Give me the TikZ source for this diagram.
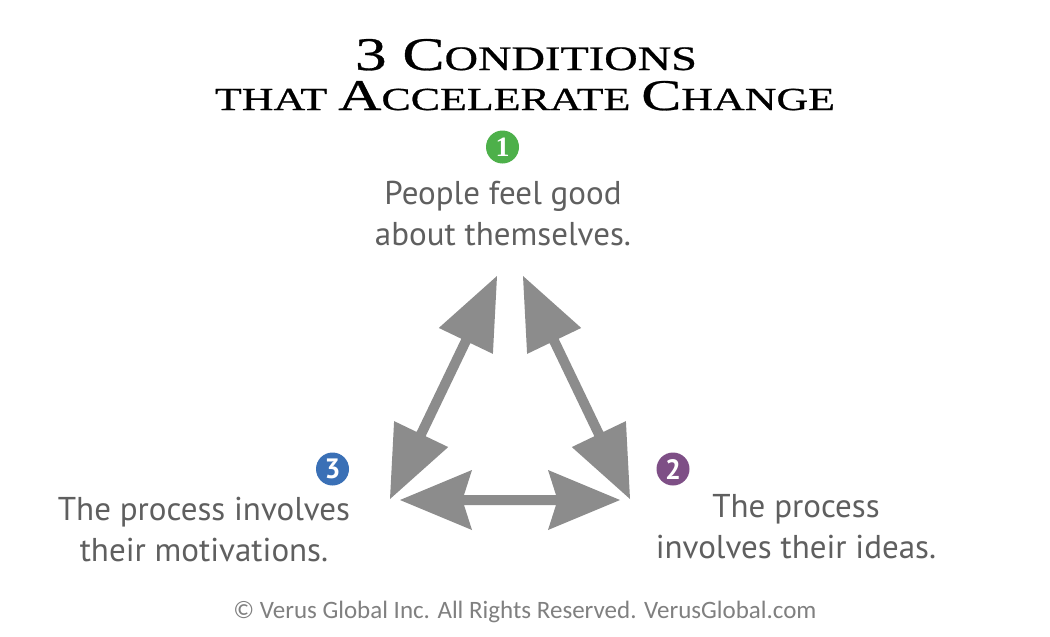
\documentclass[tikz,border=0pt]{standalone}
\usepackage{fontspec}
\usepackage{graphicx}
\usetikzlibrary{calc}
\newfontfamily\bodyfont{PT Sans}
\newfontfamily\footfont{Carlito}
\newfontfamily\titlefont{Liberation Serif}[FakeBold=0.6]
\newfontfamily\badgeserif{Liberation Serif}
\newfontfamily\badgefont{PT Sans}[BoldFont={* Bold}]
\definecolor{txtgray}{RGB}{95,95,95}
\definecolor{footgray}{RGB}{128,128,128}
\definecolor{arrowgray}{RGB}{140,140,140}
\definecolor{bgreen}{RGB}{77,176,74}
\definecolor{bblue}{RGB}{58,112,182}
\definecolor{bpurple}{RGB}{126,79,134}
\newcommand\dblarrow[3]{%
  \fill[arrowfill] (#1)
    -- ($(#1)!72pt!(#2)!30pt!90:(#2)$)
    -- ($(#1)!#3!(#2)!5pt!90:(#2)$)
    -- ($(#2)!#3!(#1)!5pt!-90:(#1)$)
    -- ($(#2)!72pt!(#1)!30pt!-90:(#1)$)
    -- (#2)
    -- ($(#2)!72pt!(#1)!30pt!90:(#1)$)
    -- ($(#2)!#3!(#1)!5pt!90:(#1)$)
    -- ($(#1)!#3!(#2)!5pt!-90:(#2)$)
    -- ($(#1)!72pt!(#2)!30pt!-90:(#2)$)
    -- cycle;}
\newcommand\bigc[1]{{\fontsize{45pt}{45pt}\selectfont #1}}
\begin{document}
\begin{tikzpicture}[x=1pt,y=-1pt,
  arrowfill/.style={fill=arrowgray},
  titleline/.style={anchor=base,inner sep=0pt,text=black},
  bodytext/.style={anchor=base,inner sep=0pt,align=center,text=txtgray,font=\bodyfont\fontsize{33pt}{41pt}\selectfont},
  badge/.style={circle,minimum size=33pt,inner sep=0pt,text=white,font=\badgefont\bfseries\fontsize{28pt}{28pt}\selectfont}]
\useasboundingbox[fill=white] (0,0) rectangle (1050,637);
% title
\node[titleline] (title1) at (526,70)
  {\resizebox{342pt}{31pt}{\titlefont\fontsize{33pt}{33pt}\selectfont \bigc{3 C}ONDITIONS}};
\node[titleline] (title2) at (525,110)
  {\resizebox{620pt}{29pt}{\titlefont\fontsize{33pt}{33pt}\selectfont THAT \bigc{A}CCELERATE \bigc{C}HANGE}};
% badges
\node[badge,fill=bgreen] (b1) at (502.5,147) {\badgeserif\bfseries 1};
\node[badge,fill=bpurple] (b2) at (673,469) {2};
\node[badge,fill=bblue] (b3) at (332.5,469) {3};
% texts (anchor base = last line)
\node[bodytext] (t1) at (503,245) {People feel good\\about themselves.};
\node[bodytext] (t2) at (796,558) {The process\\involves their ideas.};
\node[bodytext] (t3) at (204,561) {The process involves\\their motivations.};
% arrows
\coordinate (LT) at (497,276);
\coordinate (LB) at (390,499);
\coordinate (RT) at (523,276);
\coordinate (RB) at (630,499);
\coordinate (BL) at (400,500);
\coordinate (BR) at (620,500);
\dblarrow{LT}{LB}{72pt}
\dblarrow{RT}{RB}{72pt}
\dblarrow{BL}{BR}{64pt}
% footer
\node[anchor=base,inner sep=0pt,text=footgray,font=\footfont\fontsize{25pt}{25pt}\selectfont] (foot) at (525,618)
  {\copyright{} Verus Global Inc. All Rights Reserved. VerusGlobal.com};
\end{tikzpicture}
\end{document}
